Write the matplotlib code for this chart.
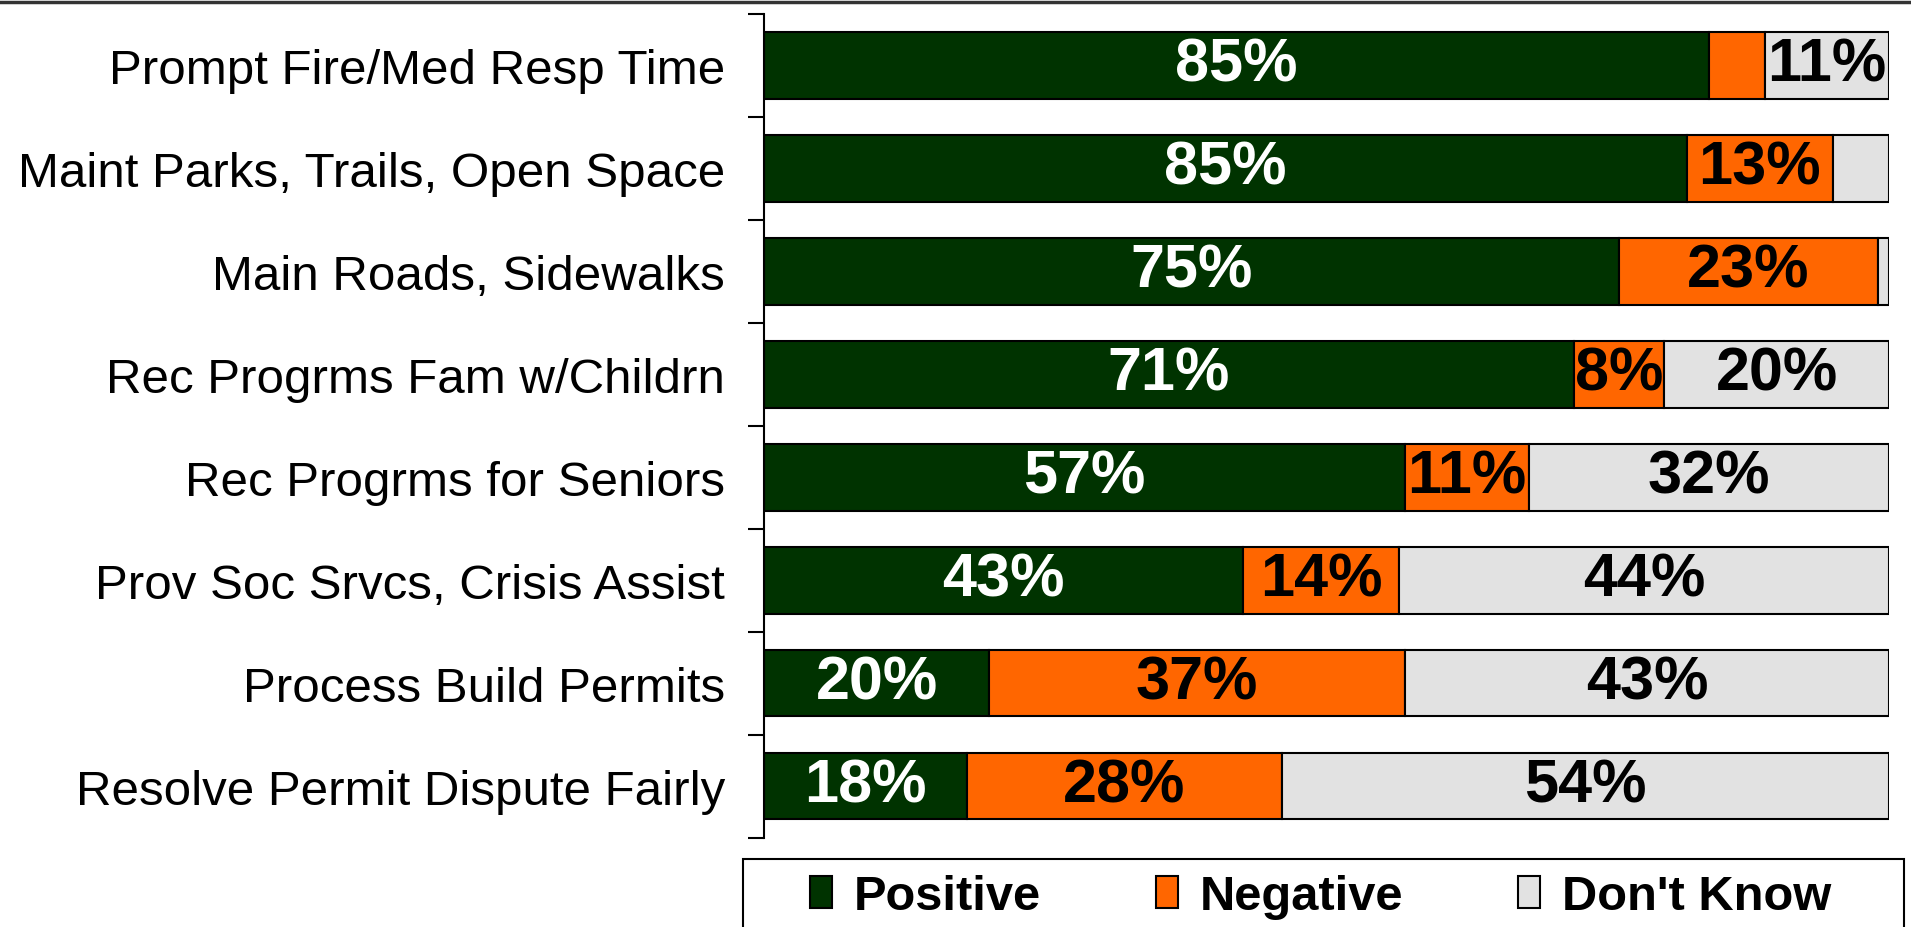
import numpy as np
import matplotlib
matplotlib.use("Agg")
import matplotlib.pyplot as plt
from matplotlib.patches import Patch, Rectangle
from matplotlib.lines import Line2D

plt.rcParams['font.family'] = ['Liberation Sans', 'DejaVu Sans']

# Datos
servicios = ["Prompt Fire/Med Resp Time", "Maint Parks, Trails, Open Space",
             "Main Roads, Sidewalks", "Rec Progrms Fam w/Childrn",
             "Rec Progrms for Seniors", "Prov Soc Srvcs, Crisis Assist",
             "Process Build Permits", "Resolve Permit Dispute Fairly"]
positivo = [84, 82, 76, 72, 57, 43, 20, 18]
negativo = [5, 13, 23, 8, 11, 14, 37, 28]
no_sabe = [11, 5, 1, 20, 32, 44, 43, 54]
etiq_pos = ["85%", "85%", "75%", "71%", "57%", "43%", "20%", "18%"]
etiq_neg = ["", "13%", "23%", "8%", "11%", "14%", "37%", "28%"]
etiq_ns = ["11%", "", "", "20%", "32%", "44%", "43%", "54%"]
series = ["Positive", "Negative", "Don't Know"]
colores = ["#003300", "#FF6600", "#E2E2E2"]

# normalizar cada fila a 100%
datos = np.array([positivo, negativo, no_sabe], dtype=float)
datos = datos / datos.sum(axis=0) * 100
etiquetas = [etiq_pos, etiq_neg, etiq_ns]
color_texto = ["white", "black", "black"]

fig = plt.figure(figsize=(19.11, 9.28), dpi=100)
ax = fig.add_axes([764 / 1911, 1 - 838.5 / 928, 1125 / 1911, (838.5 - 14.6) / 928])

y = np.arange(len(servicios))
izq = np.zeros(len(servicios))
for i in range(3):
    ax.barh(y, datos[i], left=izq, height=0.65, color=colores[i],
            edgecolor="black", linewidth=1.5, label=series[i])
    for j in range(len(servicios)):
        if etiquetas[i][j]:
            ax.text(izq[j] + datos[i][j] / 2, y[j], etiquetas[i][j],
                    ha="center", va="center", fontsize=44, fontweight="bold",
                    color=color_texto[i])
    izq += datos[i]

ax.set_xlim(0, 100)
ax.set_ylim(len(servicios) - 0.5, -0.5)
ax.set_xticks([])
ax.set_yticks(np.arange(len(servicios) + 1) - 0.5)
ax.set_yticklabels([])
ax.set_yticks(y, minor=True)
ax.set_yticklabels(servicios, minor=True, fontsize=35.5)
ax.tick_params(axis="y", which="major", length=11.5, width=1.5, direction="out")
ax.tick_params(axis="y", which="minor", length=0, pad=28)
for lado in ["top", "right", "bottom"]:
    ax.spines[lado].set_visible(False)
ax.spines["left"].set_linewidth(1.5)

# linea superior
fig.add_artist(Line2D([0, 1], [0.997, 0.997], transform=fig.transFigure,
                      color="#333333", linewidth=2.5))

# leyenda
manejadores = [Patch(facecolor=c, edgecolor="black", linewidth=1.5) for c in colores]
fig.legend(manejadores, series, ncol=3, frameon=False, loc="center left",
           bbox_to_anchor=(810 / 1911, 1 - 898 / 928), borderpad=0, borderaxespad=0,
           handlelength=0.45, handleheight=0.62, handletextpad=0.45,
           columnspacing=2.35, prop={"size": 35.2, "weight": "bold"})
fig.add_artist(Rectangle((743 / 1911, -0.1), (1904 - 743) / 1911, 0.1 + 1 - 860 / 928,
                         transform=fig.transFigure, fill=False,
                         edgecolor="black", linewidth=1.5))

fig.savefig("out.png", dpi=100)
